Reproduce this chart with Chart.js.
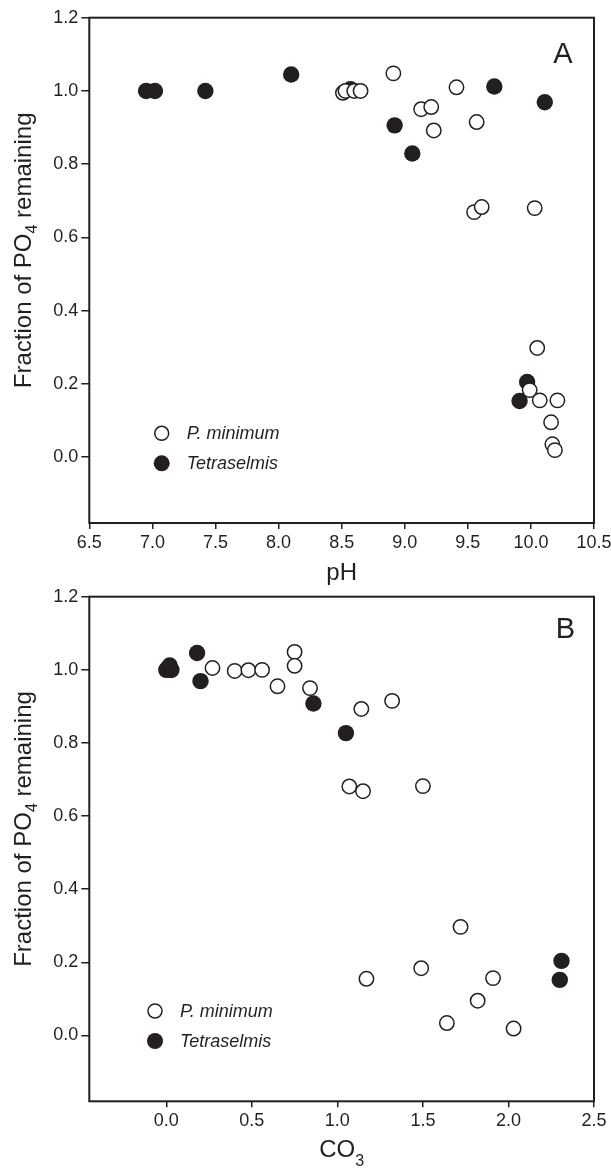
<!DOCTYPE html>
<html>
<head>
<meta charset="utf-8">
<script src="https://cdn.jsdelivr.net/npm/chart.js@4/dist/chart.umd.min.js"></script>
<style>
  body { margin: 0; background: #fff; }
  .panel { position: absolute; left: 0; width: 611px; }
</style>
</head>
<body>
<div class="panel" style="top:0;height:600px"><canvas id="chartA"></canvas></div>
<div class="panel" style="top:580px;height:590px"><canvas id="chartB"></canvas></div>
<script>
// panel A: fraction of PO4 remaining vs pH
var phOpenX = [8.51, 8.53, 8.60, 8.65, 8.91, 9.41, 9.13, 9.21, 9.23, 9.57, 9.55, 9.61, 10.03, 10.05, 9.99, 10.07, 10.21, 10.16, 10.17, 10.19];
var phOpenY = [0.995, 1.0, 1.0, 1.0, 1.048, 1.010, 0.950, 0.956, 0.892, 0.915, 0.669, 0.683, 0.680, 0.298, 0.183, 0.155, 0.155, 0.095, 0.035, 0.019];
var phFilledX = [6.95, 7.02, 7.42, 8.10, 8.57, 9.71, 10.11, 8.92, 9.06, 9.97, 9.91];
var phFilledY = [1.0, 1.0, 1.0, 1.045, 1.005, 1.012, 0.969, 0.906, 0.829, 0.205, 0.153];

// panel B: fraction of PO4 remaining vs CO3
var co3OpenX = [0.27, 0.40, 0.48, 0.56, 0.65, 0.75, 0.75, 0.84, 1.14, 1.32, 1.07, 1.15, 1.50, 1.72, 1.49, 1.17, 1.91, 1.82, 1.64, 2.03];
var co3OpenY = [1.005, 0.997, 0.999, 1.0, 0.955, 1.049, 1.011, 0.950, 0.893, 0.915, 0.681, 0.668, 0.682, 0.297, 0.184, 0.155, 0.157, 0.095, 0.034, 0.019];
var co3FilledX = [0.0, 0.02, 0.03, 0.01, 0.02, 0.18, 0.20, 0.86, 1.05, 2.31, 2.30];
var co3FilledY = [1.0, 1.0, 1.0, 1.005, 1.012, 1.046, 0.969, 0.908, 0.827, 0.204, 0.152];

var yTicks = [0, 0.2, 0.4, 0.6, 0.8, 1.0, 1.2];
var phTicks = [6.5, 7.0, 7.5, 8.0, 8.5, 9.0, 9.5, 10.0, 10.5];
var co3Ticks = [0.0, 0.5, 1.0, 1.5, 2.0, 2.5];
var seriesNames = ['P. minimum', 'Tetraselmis'];

var ink = '#231f20';
var fontFam = '"Liberation Sans", Arial, sans-serif';

function pts(xs, ys) {
    return xs.map(function (x, i) { return { x: x, y: ys[i] }; });
}

// draws frame, axis titles with subscripts, panel letter and the legend
var decor = {
    id: 'decor',
    beforeDatasetsDraw: function (chart) {
        var a = chart.chartArea, ctx = chart.ctx;
        ctx.save();
        ctx.strokeStyle = ink;
        ctx.lineWidth = 2;
        ctx.strokeRect(a.left, a.top, a.right - a.left, a.bottom - a.top);
        ctx.restore();
    },
    afterDraw: function (chart, args, o) {
        var a = chart.chartArea, ctx = chart.ctx;
        ctx.save();
        ctx.fillStyle = ink;

        // y title: Fraction of PO4 remaining
        var big = '24px ' + fontFam, small = '16px ' + fontFam;
        ctx.font = big;
        var w1 = ctx.measureText('Fraction of PO').width;
        var w3 = ctx.measureText(' remaining').width;
        ctx.font = small;
        var w2 = ctx.measureText('4').width;
        var total = w1 + w2 + w3;
        ctx.translate(31, (a.top + a.bottom) / 2 + o.yTitleShift);
        ctx.rotate(-Math.PI / 2);
        ctx.textBaseline = 'alphabetic';
        ctx.textAlign = 'left';
        var x0 = -total / 2;
        ctx.font = big;
        ctx.fillText('Fraction of PO', x0, 0);
        ctx.font = small;
        ctx.fillText('4', x0 + w1, 6);
        ctx.font = big;
        ctx.fillText(' remaining', x0 + w1 + w2, 0);
        ctx.setTransform(1, 0, 0, 1, 0, 0);

        // x title
        var cx = (a.left + a.right) / 2;
        ctx.font = big;
        ctx.textAlign = 'left';
        var tw = ctx.measureText(o.xTitle).width;
        var sw = 0;
        if (o.xSub) { ctx.font = small; sw = ctx.measureText(o.xSub).width; }
        ctx.font = big;
        ctx.fillText(o.xTitle, cx - (tw + sw) / 2, a.bottom + o.xTitleY);
        if (o.xSub) {
            ctx.font = small;
            ctx.fillText(o.xSub, cx - (tw + sw) / 2 + tw, a.bottom + o.xTitleY + 9);
        }

        // panel letter
        ctx.font = '29px ' + fontFam;
        ctx.textAlign = 'center';
        ctx.textBaseline = 'middle';
        ctx.fillText(o.letter, a.right + o.letterDx, a.top + o.letterDy);

        // legend
        var lx = a.left + o.legendDx, ly = a.top + o.legendDy;
        ctx.font = 'italic 18px ' + fontFam;
        ctx.textAlign = 'left';
        ctx.textBaseline = 'middle';
        ctx.lineWidth = 1.5;
        ctx.strokeStyle = ink;
        ctx.beginPath();
        ctx.arc(lx, ly, 7, 0, Math.PI * 2);
        ctx.fillStyle = '#fff';
        ctx.fill();
        ctx.stroke();
        ctx.beginPath();
        ctx.arc(lx, ly + 30, 8, 0, Math.PI * 2);
        ctx.fillStyle = ink;
        ctx.fill();
        ctx.fillText(seriesNames[0], lx + 25, ly + 1);
        ctx.fillText(seriesNames[1], lx + 25, ly + 31);
        ctx.restore();
    }
};

function makeChart(id, openPts, filledPts, xMin, xMax, xTicks, padTop, xAxisH, deco) {
    return new Chart(document.getElementById(id), {
        type: 'scatter',
        data: {
            datasets: [
                {
                    label: seriesNames[0],
                    data: openPts,
                    backgroundColor: '#fff',
                    borderColor: ink,
                    borderWidth: 1.5,
                    pointRadius: 7.2,
                    order: 0
                },
                {
                    label: seriesNames[1],
                    data: filledPts,
                    backgroundColor: ink,
                    borderColor: ink,
                    borderWidth: 0,
                    pointRadius: 8.2,
                    order: 1
                }
            ]
        },
        options: {
            responsive: true,
            maintainAspectRatio: false,
            animation: false,
            clip: false,
            layout: { padding: { left: 0, right: 17, top: padTop, bottom: 0 } },
            plugins: {
                legend: { display: false },
                tooltip: { enabled: false },
                decor: deco
            },
            scales: {
                x: {
                    type: 'linear',
                    min: xMin,
                    max: xMax,
                    afterBuildTicks: function (s) { s.ticks = xTicks.map(function (v) { return { value: v }; }); },
                    afterFit: function (s) { s.height = xAxisH; s.paddingLeft = 0; s.paddingRight = 0; },
                    border: { display: false },
                    grid: { drawOnChartArea: false, color: ink, lineWidth: 1.5, tickLength: 6, tickColor: ink },
                    ticks: {
                        color: ink,
                        padding: 3,
                        font: { family: fontFam, size: 18 },
                        callback: function (v) { return v.toFixed(1); }
                    }
                },
                y: {
                    type: 'linear',
                    min: -0.18,
                    max: 1.2,
                    afterBuildTicks: function (s) { s.ticks = yTicks.map(function (v) { return { value: v }; }); },
                    afterFit: function (s) { s.width = 89.3; s.paddingTop = 0; s.paddingBottom = 0; },
                    border: { display: false },
                    grid: { drawOnChartArea: false, color: ink, lineWidth: 1.5, tickLength: 8, tickColor: ink },
                    ticks: {
                        color: ink,
                        padding: 3,
                        font: { family: fontFam, size: 18 },
                        callback: function (v) { return v.toFixed(1); }
                    }
                }
            }
        },
        plugins: [decor]
    });
}

makeChart('chartA', pts(phOpenX, phOpenY), pts(phFilledX, phFilledY), 6.5, 10.5, phTicks, 17.7, 77,
    { xTitle: 'pH', xSub: '', xTitleY: 57, yTitleShift: -20, letter: 'A', letterDx: -31, letterDy: 37, legendDx: 72.4, legendDy: 415.6 });
makeChart('chartB', pts(co3OpenX, co3OpenY), pts(co3FilledX, co3FilledY), -0.45, 2.5, co3Ticks, 16.7, 68.7,
    { xTitle: 'CO', xSub: '3', xTitleY: 56, yTitleShift: -20, letter: 'B', letterDx: -28.6, letterDy: 33, legendDx: 65.7, legendDy: 414.3 });
</script>
</body>
</html>
